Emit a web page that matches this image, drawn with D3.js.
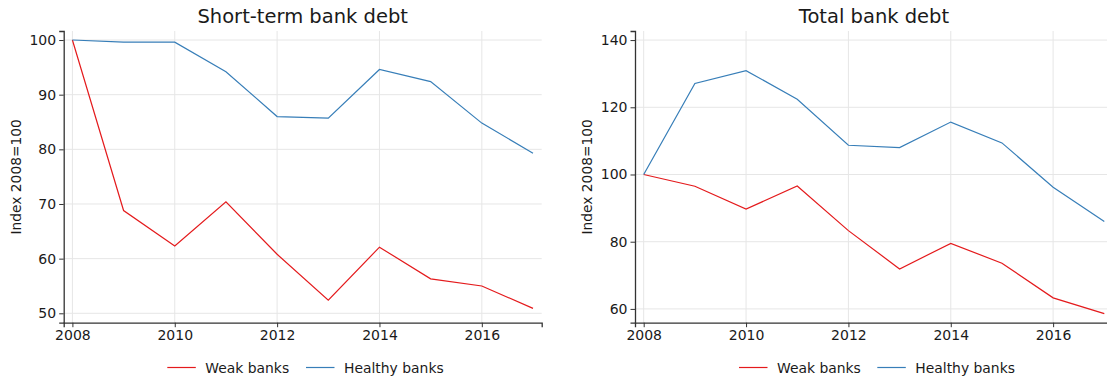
<!DOCTYPE html>
<html>
<head>
<meta charset="utf-8">
<script src="https://cdn.jsdelivr.net/npm/d3@7"></script>
<style>
  body { margin: 0; background: #fff; }
  svg { font-family: "DejaVu Sans", sans-serif; }
  .grid line { stroke: #e6e6e6; stroke-width: 1; }
  .axis path, .axis line { stroke: #333; }
  .axis text { fill: #1a1a1a; }
</style>
</head>
<body>
<svg id="chart" width="1107" height="379"></svg>
<script>
// years on the x axis
var years = [2008, 2009, 2010, 2011, 2012, 2013, 2014, 2015, 2016, 2017];

// short-term bank debt, index 2008=100
var shortWeak    = [100, 68.8, 62.3, 70.4, 60.8, 52.4, 62.1, 56.3, 55.0, 50.9];
var shortHealthy = [100, 99.6, 99.6, 94.2, 86.0, 85.7, 94.6, 92.4, 84.8, 79.3];

// total bank debt, index 2008=100
var totalWeak    = [100, 96.5, 89.7, 96.6, 83.3, 71.9, 79.5, 73.6, 63.3, 58.6];
var totalHealthy = [100, 127.1, 130.9, 122.4, 108.7, 108.0, 115.6, 109.4, 96.2, 86.0];

var xTicks = [2008, 2010, 2012, 2014, 2016];
var shortTicks = [50, 60, 70, 80, 90, 100];
var totalTicks = [60, 80, 100, 120, 140];

var seriesNames = ["Weak banks", "Healthy banks"];
var colors = { "Weak banks": "#e41a1c", "Healthy banks": "#377eb8" };

var svg = d3.select("#chart");
var top_ = 31, bottom = 322.7;

function panel(opts) {
  var x = d3.scaleLinear().domain([2007.83, 2017.17]).range([opts.left, opts.right]);
  var y = d3.scaleLinear().domain(opts.ydomain).range([bottom, top_]);
  var g = svg.append("g");

  // grid
  var grid = g.append("g").attr("class", "grid");
  grid.selectAll(".gx").data(xTicks).enter().append("line")
    .attr("x1", d => x(d)).attr("x2", d => x(d))
    .attr("y1", top_).attr("y2", bottom);
  grid.selectAll(".gy").data(opts.yticks).enter().append("line")
    .attr("x1", opts.left).attr("x2", opts.right)
    .attr("y1", d => y(d)).attr("y2", d => y(d));

  // lines
  var line = d3.line().x((d, i) => x(years[i])).y(d => y(d));
  [["Weak banks", opts.weak], ["Healthy banks", opts.healthy]].forEach(s => {
    g.append("path")
      .attr("d", line(s[1]))
      .attr("fill", "none")
      .attr("stroke", colors[s[0]])
      .attr("stroke-width", 1.2);
  });

  // axes
  g.append("g").attr("class", "axis")
    .attr("transform", "translate(0," + bottom + ")")
    .call(d3.axisBottom(x).tickValues(xTicks).tickFormat(d3.format("d")).tickSizeOuter(0).tickSize(4.5).tickPadding(3))
    .attr("font-size", 14).attr("font-family", "DejaVu Sans, sans-serif");
  g.append("g").attr("class", "axis")
    .attr("transform", "translate(" + opts.left + ",0)")
    .call(d3.axisLeft(y).tickValues(opts.yticks).tickSizeOuter(0).tickSize(4.5).tickPadding(3))
    .attr("font-size", 14).attr("font-family", "DejaVu Sans, sans-serif");
  g.selectAll(".axis .domain").attr("stroke-width", 1.3);

  // title
  g.append("text")
    .attr("x", (opts.left + opts.right) / 2)
    .attr("y", 23)
    .attr("text-anchor", "middle")
    .attr("font-size", "19.5px")
    .attr("fill", "#1a1a1a")
    .text(opts.title);

  // y label
  g.append("text")
    .attr("transform", "translate(" + opts.ylabelX + "," + ((top_ + bottom) / 2) + ") rotate(-90)")
    .attr("text-anchor", "middle")
    .attr("font-size", "13.8px")
    .attr("fill", "#1a1a1a")
    .text("Index 2008=100");

  // legend
  var lx = opts.legendX, ly = 367.5;
  seriesNames.forEach((name, i) => {
    var ox = lx + i * (opts.legendGap);
    g.append("line")
      .attr("x1", ox).attr("x2", ox + 28.5)
      .attr("y1", ly).attr("y2", ly)
      .attr("stroke", colors[name]).attr("stroke-width", 1.2);
    g.append("text")
      .attr("x", ox + 38).attr("y", ly + 5)
      .attr("font-size", "13.9px")
      .attr("fill", "#1a1a1a")
      .text(name);
  });
}

panel({
  title: "Short-term bank debt", left: 63.7, right: 541.7,
  ydomain: [48.28, 101.65], yticks: shortTicks,
  weak: shortWeak, healthy: shortHealthy, ylabelX: 21,
  legendX: 167.3, legendGap: 138.7
});

panel({
  title: "Total bank debt", left: 635, right: 1113,
  ydomain: [55.9, 142.7], yticks: totalTicks,
  weak: totalWeak, healthy: totalHealthy, ylabelX: 592,
  legendX: 739, legendGap: 138.3
});
</script>
</body>
</html>
